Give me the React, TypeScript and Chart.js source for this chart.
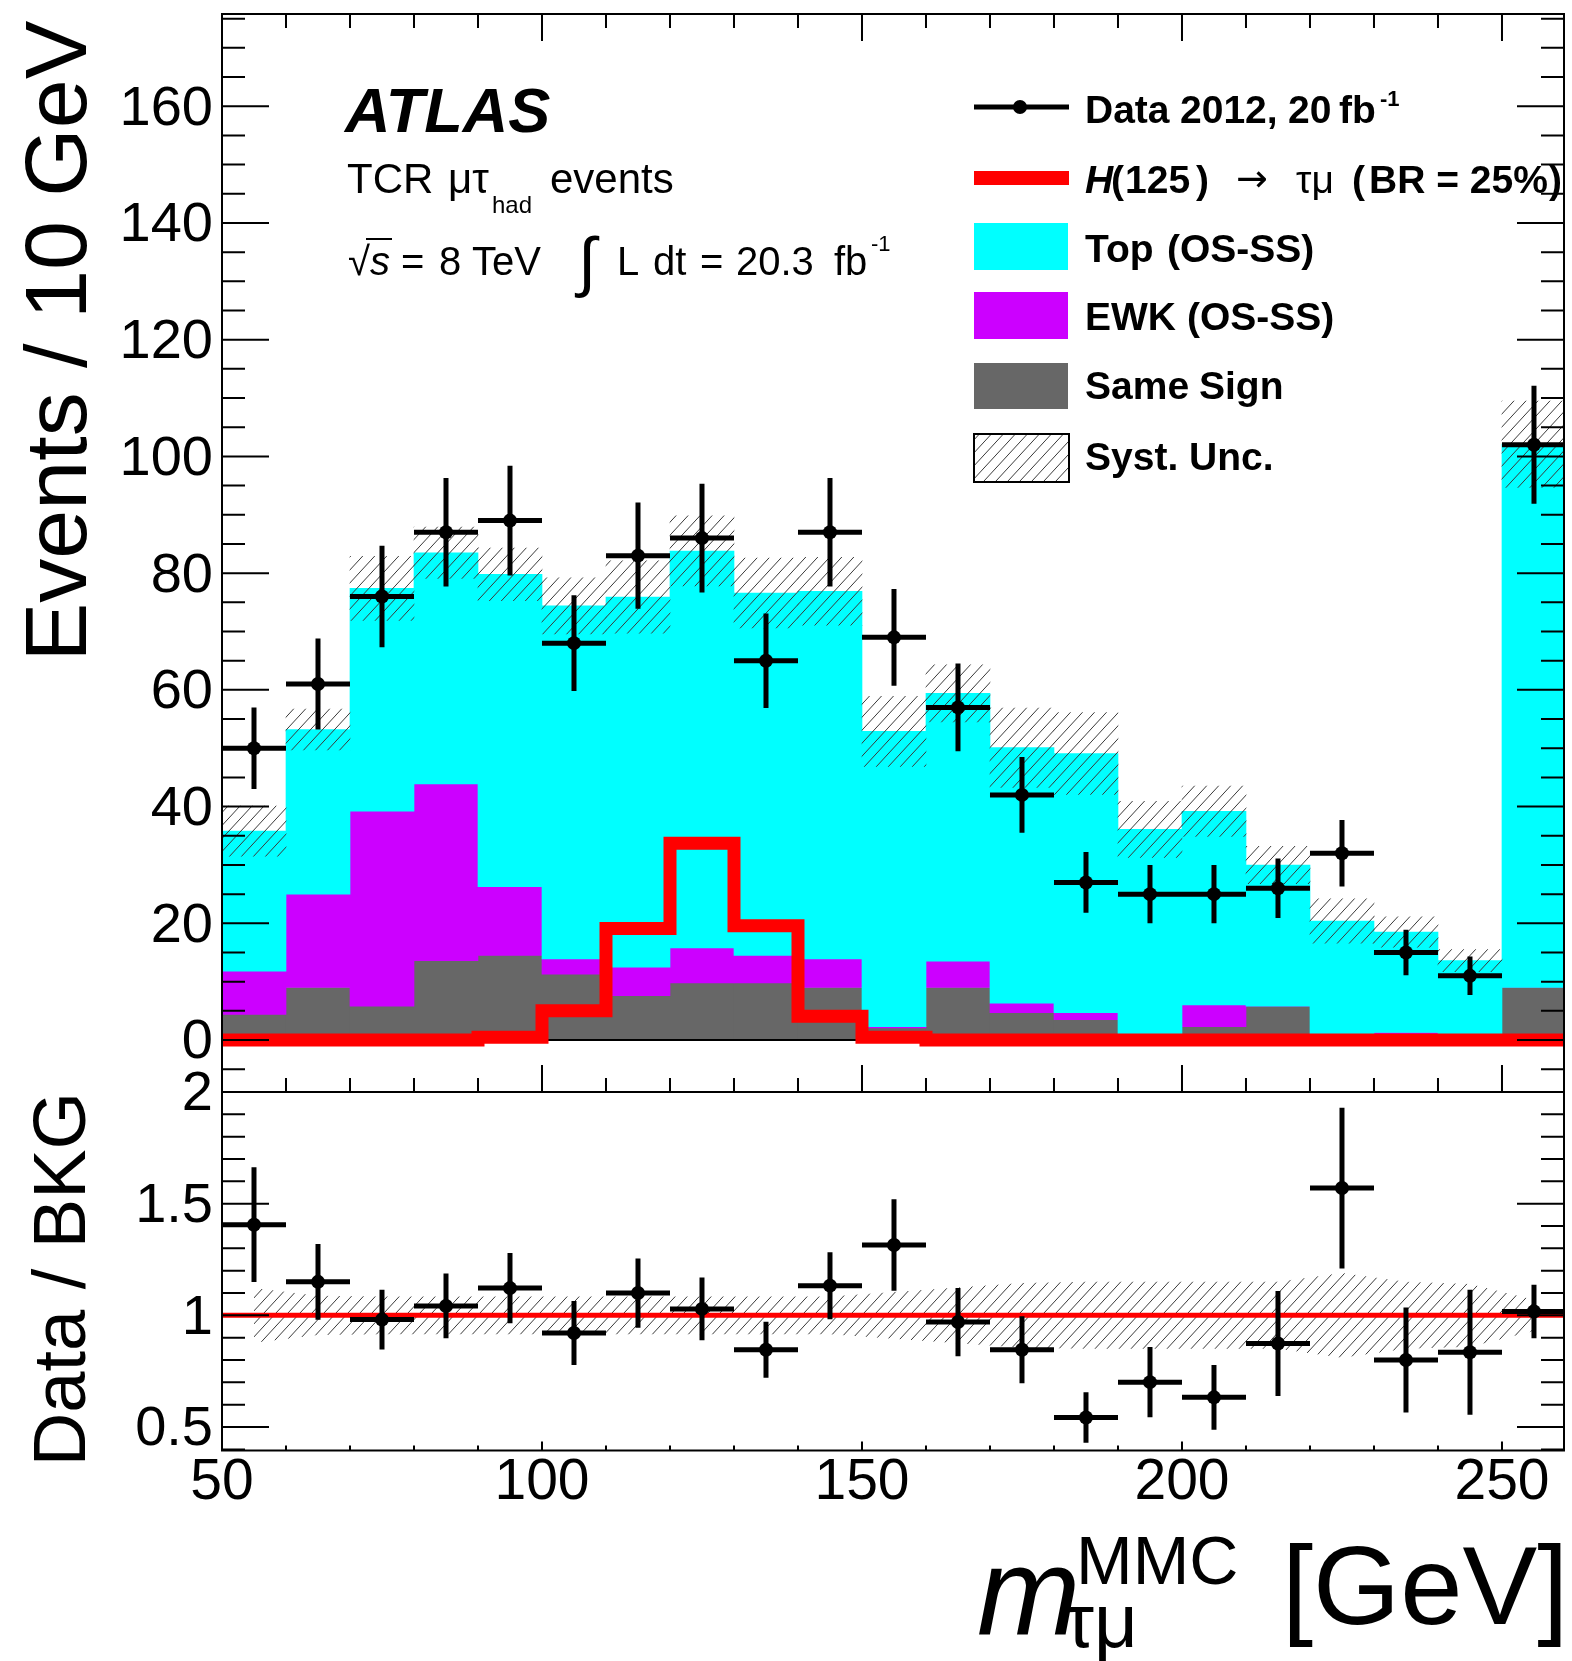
import React, { useEffect, useRef } from "react";
import { Chart, registerables } from "chart.js";

Chart.register(...registerables);

const FONT = "'Liberation Sans', Arial, Helvetica, sans-serif";

// ---------------- data ----------------
const binEdges = [50, 60, 70, 80, 90, 100, 110, 120, 130, 140, 150, 160, 170, 180, 190, 200, 210, 220, 230, 240, 250, 260];
const binCenters = [55, 65, 75, 85, 95, 105, 115, 125, 135, 145, 155, 165, 175, 185, 195, 205, 215, 225, 235, 245, 255];
const binHalfWidth = 5;

const dataCounts = [50, 61, 76, 87, 89, 68, 83, 86, 65, 87, 69, 57, 42, 27, 25, 25, 26, 32, 15, 11, 102];
const dataErrors = [7.0, 7.8, 8.7, 9.3, 9.4, 8.2, 9.1, 9.3, 8.1, 9.3, 8.3, 7.5, 6.5, 5.2, 5.0, 5.0, 5.1, 5.7, 3.9, 3.3, 10.1];

const sameSign = [4.4, 9.0, 5.8, 13.6, 14.5, 11.3, 7.6, 9.8, 9.8, 9.0, 2.1, 9.0, 4.7, 3.5, 0.5, 2.3, 5.8, 0.3, 0.3, 0.5, 9.0];
const ewkOSSS = [7.4, 16.0, 33.4, 30.3, 11.8, 2.6, 4.9, 6.0, 4.7, 4.9, 0.2, 4.5, 1.6, 1.2, 0.5, 3.7, 0, 0, 1.0, 0, 0];
const topOSSS = [24.0, 28.2, 38.2, 39.6, 53.5, 60.5, 63.4, 68.0, 62.1, 63.0, 50.6, 45.9, 43.8, 44.4, 35.1, 33.2, 24.2, 20.1, 17.2, 13.1, 93.1];
const systUnc = [4.3, 3.5, 5.5, 4.4, 4.5, 4.8, 6.2, 6.0, 6.0, 5.8, 6.0, 4.9, 6.8, 7.0, 4.8, 4.3, 3.2, 3.8, 2.6, 1.9, 7.4];
const signalH125 = [0, 0, 0, 0, 0.5, 5.0, 19.1, 33.7, 19.6, 4.1, 0.5, 0, 0, 0, 0, 0, 0, 0, 0, 0, 0];

const ratioValues = [1.406, 1.15, 0.981, 1.042, 1.122, 0.921, 1.1, 1.029, 0.846, 1.133, 1.315, 0.97, 0.846, 0.543, 0.701, 0.633, 0.874, 1.57, 0.8, 0.835, 1.017];
const ratioErrors = [0.257, 0.17, 0.134, 0.145, 0.157, 0.143, 0.155, 0.14, 0.125, 0.15, 0.205, 0.153, 0.15, 0.113, 0.157, 0.145, 0.235, 0.36, 0.235, 0.28, 0.12];
const ratioSyst = [0.123, 0.088, 0.085, 0.085, 0.085, 0.085, 0.085, 0.085, 0.085, 0.085, 0.105, 0.125, 0.145, 0.15, 0.15, 0.15, 0.15, 0.19, 0.15, 0.14, 0.07];
const ratioReference = 1;

const upperYTicks = [0, 20, 40, 60, 80, 100, 120, 140, 160];
const lowerYTicks = [0.5, 1, 1.5, 2];
const xTicks = [50, 100, 150, 200, 250];

// ---------------- helpers ----------------
function range(a: number, b: number, step: number) {
  const out: number[] = [];
  for (let v = a; v <= b + 1e-9; v += step) out.push(Math.round(v * 1000) / 1000);
  return out;
}

function makeHatch(): any {
  const w = 12, h = 13;
  const c = document.createElement("canvas");
  c.width = w;
  c.height = h;
  const g = c.getContext("2d");
  if (!g) return "rgba(0,0,0,0.3)";
  g.strokeStyle = "#3a3a3a";
  g.lineWidth = 1.0;
  g.beginPath();
  for (const dx of [-w, 0, w]) {
    g.moveTo(dx - w, 2 * h);
    g.lineTo(dx + 2 * w, -h);
  }
  g.stroke();
  return g.createPattern(c, "repeat") || "#888";
}

function crossSegments(xs: number[], ys: number[], es: number[]) {
  const pts: any[] = [];
  xs.forEach((x, i) => {
    pts.push({ x: x - binHalfWidth, y: ys[i] }, { x: x + binHalfWidth, y: ys[i] }, { x: x + binHalfWidth, y: null });
    pts.push({ x, y: ys[i] - es[i] }, { x, y: ys[i] + es[i] }, { x, y: null });
  });
  return pts;
}

function txt(ctx: CanvasRenderingContext2D, s: string, x: number, y: number, size: number, style = "", family = FONT) {
  ctx.font = `${style} ${size}px ${family}`.trim();
  ctx.textAlign = "left";
  ctx.textBaseline = "alphabetic";
  ctx.fillStyle = "#000";
  ctx.fillText(s, x, y);
}

function drawFrameTicks(chart: any, spec: any) {
  const { ctx, chartArea: a } = chart;
  const xs = chart.scales.x;
  const ys = chart.scales.y;
  ctx.save();
  ctx.strokeStyle = "#000";
  ctx.lineWidth = 2;
  ctx.lineCap = "butt";
  ctx.beginPath();
  const yTick = (v: number, len: number) => {
    const p = ys.getPixelForValue(v);
    if (p < a.top - 1 || p > a.bottom + 1) return;
    ctx.moveTo(a.left, p);
    ctx.lineTo(a.left + len, p);
    ctx.moveTo(a.right, p);
    ctx.lineTo(a.right - len, p);
  };
  const xTick = (v: number, top: number, bottom: number) => {
    const p = xs.getPixelForValue(v);
    if (p < a.left - 1 || p > a.right + 1) return;
    if (top) {
      ctx.moveTo(p, a.top);
      ctx.lineTo(p, a.top + top);
    }
    if (bottom) {
      ctx.moveTo(p, a.bottom);
      ctx.lineTo(p, a.bottom - bottom);
    }
  };
  spec.yMinor.forEach((v: number) => yTick(v, spec.yMinorLen));
  spec.yMajor.forEach((v: number) => yTick(v, spec.yMajorLen));
  spec.xMinor.forEach((v: number) => xTick(v, spec.xTopMinor, spec.xBottomMinor));
  spec.xMajor.forEach((v: number) => xTick(v, spec.xTopMajor, spec.xBottomMajor));
  ctx.stroke();
  ctx.strokeRect(a.left, a.top, a.right - a.left, a.bottom - a.top);
  ctx.restore();
}

const X_MIN = 50;
const X_MAX = 259.69;

// ---------------- component ----------------
export default function App() {
  const upRef = useRef<HTMLCanvasElement>(null);
  const loRef = useRef<HTMLCanvasElement>(null);

  useEffect(() => {
    const hatch = makeHatch();
    const ewkTop = sameSign.map((v, i) => v + ewkOSSS[i]);
    const totalBkg = ewkTop.map((v, i) => v + topOSSS[i]);

    const upperDecor = {
      id: "upperDecor",
      afterDraw(chart: any) {
        const ctx = chart.ctx as CanvasRenderingContext2D;
        drawFrameTicks(chart, {
          yMajor: upperYTicks,
          yMinor: range(-5, 175, 5),
          yMajorLen: 47,
          yMinorLen: 23,
          xMajor: xTicks,
          xMinor: range(50, 250, 10),
          xTopMajor: 27,
          xTopMinor: 14,
          xBottomMajor: 27,
          xBottomMinor: 14,
        });
        ctx.save();
        // y title
        ctx.save();
        ctx.translate(86, 341);
        ctx.rotate(-Math.PI / 2);
        ctx.font = `88px ${FONT}`;
        ctx.textAlign = "center";
        ctx.fillStyle = "#000";
        ctx.fillText("Events / 10 GeV", 0, 0);
        ctx.restore();

        // ATLAS label block
        txt(ctx, "ATLAS", 345, 132, 63, "italic bold");
        txt(ctx, "TCR", 347, 193, 42);
        txt(ctx, "\u03bc\u03c4", 448, 193, 42);
        txt(ctx, "had", 492, 213, 24);
        txt(ctx, "events", 550, 193, 42);

        txt(ctx, "\u221a", 348, 275, 40);
        ctx.strokeStyle = "#000";
        ctx.lineWidth = 2;
        ctx.beginPath();
        ctx.moveTo(366, 239);
        ctx.lineTo(392, 239);
        ctx.stroke();
        txt(ctx, "s", 370, 275, 40, "italic");
        txt(ctx, "=", 401, 275, 40);
        txt(ctx, "8", 439, 275, 40);
        txt(ctx, "TeV", 472, 275, 40);
        txt(ctx, "\u222b", 578, 284, 66);
        txt(ctx, "L", 617, 275, 40);
        txt(ctx, "dt", 653, 275, 40);
        txt(ctx, "=", 700, 275, 40);
        txt(ctx, "20.3", 736, 275, 40);
        txt(ctx, "fb", 834, 275, 40);
        txt(ctx, "-1", 871, 251, 22);

        // legend
        const bx = 974, bw = 94;
        ctx.strokeStyle = "#000";
        ctx.lineWidth = 5;
        ctx.beginPath();
        ctx.moveTo(bx, 107);
        ctx.lineTo(bx + 95, 107);
        ctx.stroke();
        ctx.fillStyle = "#000";
        ctx.beginPath();
        ctx.arc(1020, 107, 7, 0, Math.PI * 2);
        ctx.fill();
        txt(ctx, "Data", 1085, 123, 39, "bold");
        txt(ctx, "2012,", 1180, 123, 39, "bold");
        txt(ctx, "20", 1288, 123, 39, "bold");
        txt(ctx, "fb", 1339, 123, 39, "bold");
        txt(ctx, "-1", 1380, 106, 22, "bold");

        ctx.fillStyle = "#ff0000";
        ctx.fillRect(bx, 171, 95, 14);
        txt(ctx, "H", 1085, 193, 39, "italic bold");
        txt(ctx, "(", 1111, 193, 39, "bold");
        txt(ctx, "125", 1125, 193, 39, "bold");
        txt(ctx, ")", 1196, 193, 39, "bold");
        txt(ctx, "\u2192", 1236, 191, 38, "", "'DejaVu Sans', sans-serif");
        txt(ctx, "\u03c4\u03bc", 1296, 193, 39);
        txt(ctx, "(", 1352, 193, 39, "bold");
        txt(ctx, "BR = 25%", 1369, 193, 39, "bold");
        txt(ctx, ")", 1549, 193, 39, "bold");

        ctx.fillStyle = "#00ffff";
        ctx.fillRect(bx, 223, bw, 47);
        txt(ctx, "Top", 1085, 262, 39, "bold");
        txt(ctx, "(OS-SS)", 1167, 262, 39, "bold");

        ctx.fillStyle = "#cc00ff";
        ctx.fillRect(bx, 292, bw, 47);
        txt(ctx, "EWK", 1085, 330, 39, "bold");
        txt(ctx, "(OS-SS)", 1187, 330, 39, "bold");

        ctx.fillStyle = "#676767";
        ctx.fillRect(bx, 363, bw, 46);
        txt(ctx, "Same", 1085, 399, 39, "bold");
        txt(ctx, "Sign", 1199, 399, 39, "bold");

        ctx.fillStyle = hatch;
        ctx.fillRect(bx, 434, 95, 48);
        ctx.strokeStyle = "#000";
        ctx.lineWidth = 2;
        ctx.strokeRect(bx, 434, 95, 48);
        txt(ctx, "Syst.", 1085, 470, 39, "bold");
        txt(ctx, "Unc.", 1189, 470, 39, "bold");
        ctx.restore();
      },
    };

    const lowerTop = 1040;
    const lowerDecor = {
      id: "lowerDecor",
      afterDraw(chart: any) {
        const ctx = chart.ctx as CanvasRenderingContext2D;
        drawFrameTicks(chart, {
          yMajor: lowerYTicks,
          yMinor: range(0.4, 2.0, 0.1),
          yMajorLen: 47,
          yMinorLen: 23,
          xMajor: xTicks,
          xMinor: range(50, 250, 10),
          xTopMajor: 0,
          xTopMinor: 0,
          xBottomMajor: 9,
          xBottomMinor: 5,
        });
        ctx.save();
        ctx.translate(85, 1279 - lowerTop);
        ctx.rotate(-Math.PI / 2);
        ctx.font = `74px ${FONT}`;
        ctx.textAlign = "center";
        ctx.fillStyle = "#000";
        ctx.fillText("Data / BKG", 0, 0);
        ctx.restore();

        // x-axis title
        txt(ctx, "m", 977, 1634 - lowerTop, 124, "italic");
        txt(ctx, "MMC", 1076, 1584 - lowerTop, 68);
        txt(ctx, "\u03c4\u03bc", 1064, 1647 - lowerTop, 76);
        txt(ctx, "[GeV]", 1282, 1624 - lowerTop, 112);
      },
    };

    const commonX = (afterFitH: number, showTicks: boolean) => ({
      type: "linear",
      min: X_MIN,
      max: X_MAX,
      offset: false,
      grid: { display: false, drawTicks: false },
      border: { display: false },
      ticks: {
        display: showTicks,
        autoSkip: false,
        padding: 4,
        color: "#000",
        font: { family: FONT, size: 57, lineHeight: 1 },
        callback: (v: any) => String(v),
      },
      afterBuildTicks: (s: any) => {
        s.ticks = xTicks.map((value) => ({ value }));
      },
      afterFit: (s: any) => {
        s.height = afterFitH;
        s.paddingLeft = 0;
        s.paddingRight = 0;
      },
    });

    const yAxis = (min: number, max: number, tickVals: number[]) => ({
      type: "linear",
      min,
      max,
      grid: { display: false, drawTicks: false },
      border: { display: false },
      ticks: {
        autoSkip: false,
        padding: 9,
        labelOffset: 3,
        color: "#000",
        font: { family: FONT, size: 56, lineHeight: 1 },
        callback: (v: any) => String(v),
      },
      afterBuildTicks: (s: any) => {
        s.ticks = tickVals.map((value) => ({ value }));
      },
      afterFit: (s: any) => {
        s.width = 222;
        s.paddingTop = 0;
        s.paddingBottom = 0;
      },
    });

    const upper = new Chart(upRef.current as HTMLCanvasElement, {
      type: "bar",
      data: {
        datasets: [
          {
            type: "line",
            data: binCenters.map((x, i) => ({ x, y: dataCounts[i] })),
            showLine: false,
            pointRadius: 7,
            pointBackgroundColor: "#000",
            pointBorderColor: "#000",
            pointBorderWidth: 0,
            order: 0,
            clip: 0,
          },
          {
            type: "line",
            data: crossSegments(binCenters, dataCounts, dataErrors),
            borderColor: "#000",
            borderWidth: 5,
            pointRadius: 0,
            spanGaps: false,
            order: 1,
            clip: 0,
          },
          {
            type: "line",
            data: binEdges.map((x, i) => ({ x, y: signalH125[Math.min(i, signalH125.length - 1)] })),
            stepped: "before",
            borderColor: "#ff0000",
            borderWidth: 13,
            borderJoinStyle: "miter",
            borderCapStyle: "butt",
            pointRadius: 0,
            order: 2,
            clip: 0,
          },
          {
            type: "line",
            data: [
              { x: binEdges[0], y: 0 },
              { x: binEdges[binEdges.length - 1], y: 0 },
            ],
            borderColor: "#000",
            borderWidth: 2,
            pointRadius: 0,
            order: 3,
            clip: 0,
          },
          {
            type: "bar",
            data: binCenters.map((x, i) => ({ x, y: [totalBkg[i] - systUnc[i], totalBkg[i] + systUnc[i]] })),
            backgroundColor: hatch,
            borderWidth: 0,
            grouped: false,
            barPercentage: 1,
            categoryPercentage: 1,
            order: 4,
          },
          {
            type: "bar",
            data: binCenters.map((x, i) => ({ x, y: [ewkTop[i], totalBkg[i]] })),
            backgroundColor: "#00ffff",
            borderWidth: 0,
            grouped: false,
            barPercentage: 1,
            categoryPercentage: 1,
            order: 5,
          },
          {
            type: "bar",
            data: binCenters.map((x, i) => ({ x, y: [sameSign[i], ewkTop[i]] })),
            backgroundColor: "#cc00ff",
            borderWidth: 0,
            grouped: false,
            barPercentage: 1,
            categoryPercentage: 1,
            order: 6,
          },
          {
            type: "bar",
            data: binCenters.map((x, i) => ({ x, y: [0, sameSign[i]] })),
            backgroundColor: "#676767",
            borderWidth: 0,
            grouped: false,
            barPercentage: 1,
            categoryPercentage: 1,
            order: 7,
          },
        ] as any,
      },
      options: {
        responsive: false,
        animation: false,
        devicePixelRatio: 1,
        events: [],
        layout: { padding: { left: 0, top: 14, right: 8, bottom: 8 } },
        plugins: { legend: { display: false }, tooltip: { enabled: false } },
        scales: {
          x: commonX(0, false) as any,
          y: yAxis(-8.9, 175.8, upperYTicks) as any,
        },
      },
      plugins: [upperDecor],
    } as any);

    const lower = new Chart(loRef.current as HTMLCanvasElement, {
      type: "line",
      data: {
        datasets: [
          {
            data: binCenters.map((x, i) => ({ x, y: ratioValues[i] })),
            showLine: false,
            pointRadius: 7,
            pointBackgroundColor: "#000",
            pointBorderColor: "#000",
            pointBorderWidth: 0,
            order: 0,
            clip: 0,
          },
          {
            data: crossSegments(binCenters, ratioValues, ratioErrors),
            borderColor: "#000",
            borderWidth: 5,
            pointRadius: 0,
            spanGaps: false,
            order: 1,
            clip: 0,
          },
          {
            data: [
              { x: binEdges[0], y: ratioReference },
              { x: binEdges[binEdges.length - 1], y: ratioReference },
            ],
            borderColor: "#ff0000",
            borderWidth: 5,
            pointRadius: 0,
            order: 2,
            clip: 0,
          },
          {
            data: binCenters.map((x, i) => ({ x, y: ratioReference + ratioSyst[i] })),
            borderColor: "rgba(0,0,0,0)",
            borderWidth: 1,
            pointRadius: 0,
            fill: "+1",
            backgroundColor: hatch,
            order: 3,
            clip: 0,
          },
          {
            data: binCenters.map((x, i) => ({ x, y: ratioReference - ratioSyst[i] })),
            borderColor: "rgba(0,0,0,0)",
            borderWidth: 1,
            pointRadius: 0,
            fill: false,
            order: 3,
            clip: 0,
          },
        ] as any,
      },
      options: {
        responsive: false,
        animation: false,
        devicePixelRatio: 1,
        events: [],
        layout: { padding: { left: 0, top: 52, right: 8, bottom: 0 } },
        plugins: { legend: { display: false }, tooltip: { enabled: false } },
        scales: {
          x: commonX(210.5, true) as any,
          y: yAxis(0.395, 2.0, lowerYTicks) as any,
        },
      },
      plugins: [lowerDecor],
    } as any);

    return () => {
      upper.destroy();
      lower.destroy();
    };
  }, []);

  return (
    <div style={{ position: "absolute", left: 0, top: 0, width: 1572, height: 1661, background: "#fff", overflow: "hidden" }}>
      <canvas
        ref={upRef}
        width={1572}
        height={1100}
        style={{ position: "absolute", left: 0, top: 0, width: 1572, height: 1100 }}
      />
      <canvas
        ref={loRef}
        width={1572}
        height={621}
        style={{ position: "absolute", left: 0, top: 1040, width: 1572, height: 621 }}
      />
    </div>
  );
}
